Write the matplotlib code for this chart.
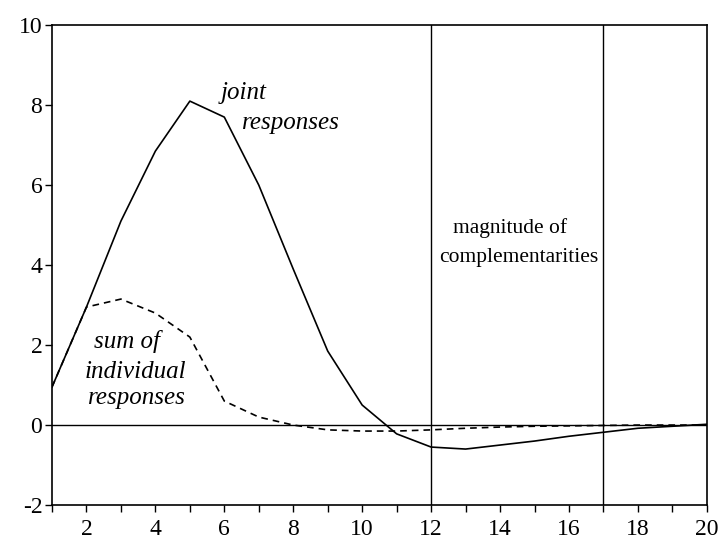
import numpy as np
import matplotlib
matplotlib.use("Agg")
import matplotlib.pyplot as plt

plt.rcParams['font.family'] = ['Liberation Serif', 'DejaVu Serif']
plt.rcParams['axes.unicode_minus'] = False

periods = np.arange(1, 21)
joint = [0.95, 2.95, 5.1, 6.85, 8.1, 7.7, 6.0, 3.9, 1.85, 0.5,
         -0.22, -0.55, -0.6, -0.5, -0.4, -0.28, -0.18, -0.08, -0.03, 0.02]
sum_individual = [0.95, 2.95, 3.15, 2.8, 2.2, 0.6, 0.2, 0.0, -0.12, -0.15,
                  -0.15, -0.12, -0.08, -0.05, -0.03, -0.02, -0.01, 0.0, 0.0, 0.0]
bounds = [12, 17]

fig = plt.figure(figsize=(7.22, 5.46), dpi=100)
ax = fig.add_axes([0.072, 0.075, 0.907, 0.879])

ax.plot(periods, joint, color='black', lw=1.2)
ax.plot(periods, sum_individual, color='black', lw=1.2, ls=(0, (4, 3)))
ax.axhline(0, color='black', lw=1.0)
for b in bounds:
    ax.axvline(b, color='black', lw=1.0)

ax.set_xlim(1, 20)
ax.set_ylim(-2, 10)
ax.set_xticks(range(2, 21, 2))
ax.set_xticks(range(1, 21, 2), minor=True)
ax.set_yticks(range(-2, 11, 2))
ax.tick_params(axis='both', direction='out', length=5, width=1, labelsize=17, pad=2)
ax.tick_params(axis='x', which='minor', direction='out', length=5, width=1)
ax.tick_params(axis='x', pad=5)
for s in ax.spines.values():
    s.set_linewidth(1.2)

# curve labels
ax.text(6.57, 8.3, 'joint', style='italic', fontsize=18, ha='center', va='center')
ax.text(7.93, 7.55, 'responses', style='italic', fontsize=18, ha='center', va='center')
ax.text(3.17, 2.08, 'sum of', style='italic', fontsize=18, ha='center', va='center')
ax.text(3.43, 1.33, 'individual', style='italic', fontsize=18, ha='center', va='center')
ax.text(3.46, 0.68, 'responses', style='italic', fontsize=18, ha='center', va='center')
ax.text(14.3, 4.93, 'magnitude of', fontsize=15.5, ha='center', va='center')
ax.text(14.55, 4.18, 'complementarities', fontsize=15.5, ha='center', va='center')

fig.savefig('out.png', dpi=100)
